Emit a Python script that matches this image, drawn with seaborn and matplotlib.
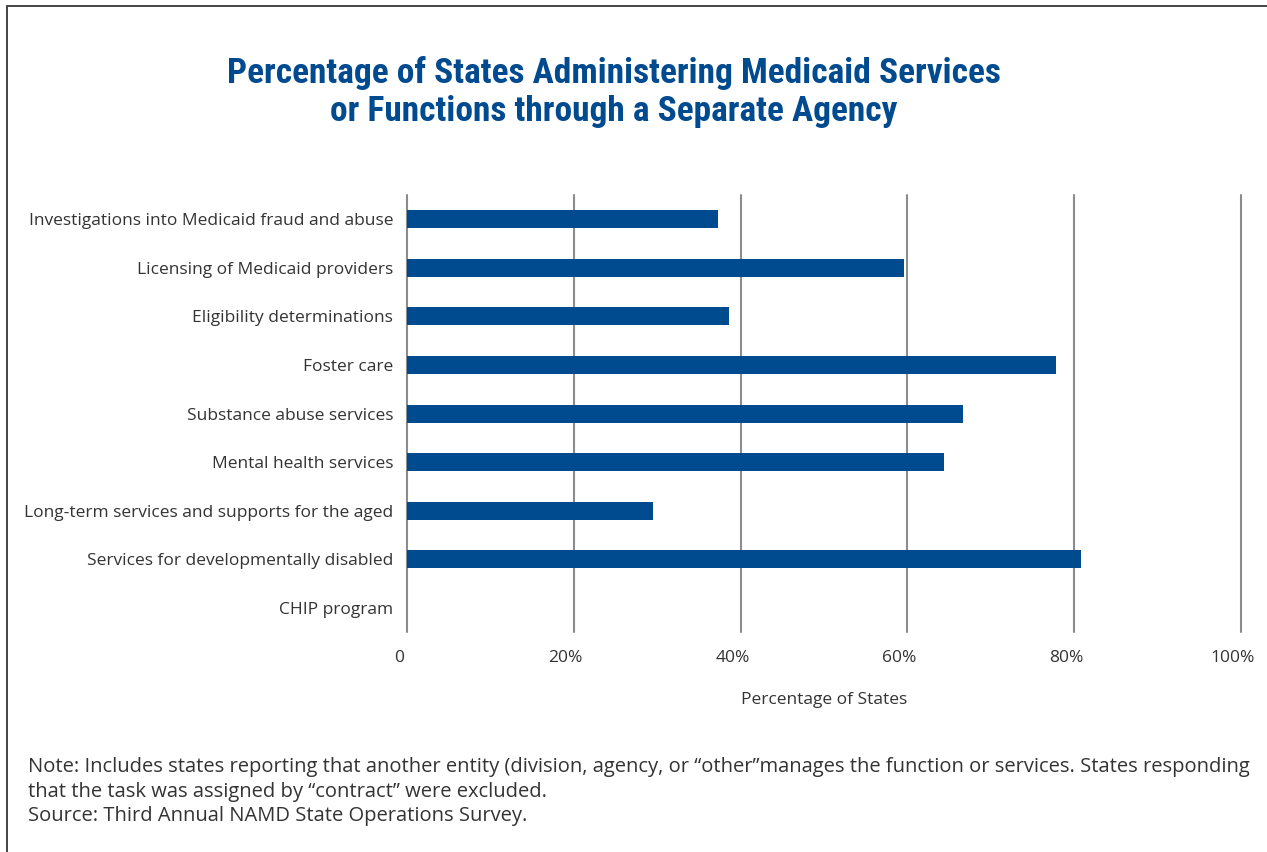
import matplotlib
matplotlib.use("Agg")
import matplotlib.pyplot as plt
import matplotlib.transforms as mtransforms
import seaborn as sns
import pandas as pd
from matplotlib.lines import Line2D

categories = [
    "Investigations into Medicaid fraud and abuse",
    "Licensing of Medicaid providers",
    "Eligibility determinations",
    "Foster care",
    "Substance abuse services",
    "Mental health services",
    "Long-term services and supports for the aged",
    "Services for developmentally disabled",
    "CHIP program",
]
values = [37.3, 59.6, 38.6, 77.8, 66.7, 64.4, 29.5, 80.8, 0.0]
xticks = [0, 20, 40, 60, 80, 100]
xtick_labels = ["0", "20%", "40%", "60%", "80%", "100%"]

title = "Percentage of States Administering Medicaid Services\nor Functions through a Separate Agency"
xlabel = "Percentage of States"
note = ("Note: Includes states reporting that another entity (division, agency, or \u201cother\u201dmanages the function or services. States responding\n"
        "that the task was assigned by \u201ccontract\u201d were excluded.\n"
        "Source: Third Annual NAMD State Operations Survey.")

sns.set_style("white")
plt.rcParams['font.family'] = ['Open Sans', 'Liberation Sans', 'DejaVu Sans']

BLUE = "#004a8f"
TXT = "#333333"
GRID = "#8c8c8c"

df = pd.DataFrame({"category": categories, "value": values})

fig = plt.figure(figsize=(12.67, 8.52), dpi=100)
ax = fig.add_axes([0.3212, 0.2582, 0.9795 - 0.3212, 0.7711 - 0.2582])

sns.barplot(data=df, x="value", y="category", orient="h", color=BLUE,
            width=0.37, saturation=1, linewidth=0, ax=ax, zorder=3)

ax.set_xlim(0, 100)
ax.set_ylim(len(categories) - 0.5, -0.5)
ax.set_xticks(xticks)
ax.set_xticklabels(xtick_labels)
for x in xticks:
    ax.axvline(x, color=GRID, lw=1.5, zorder=1, clip_on=False)
for s in ax.spines.values():
    s.set_visible(False)
ax.tick_params(axis="both", length=0, labelsize=12.5, colors=TXT)
ax.tick_params(axis="y", pad=10)
ax.tick_params(axis="x", pad=13)
shift = mtransforms.ScaledTranslation(-8 / 100, 0, fig.dpi_scale_trans)
for lab in ax.get_xticklabels():
    lab.set_transform(lab.get_transform() + shift)
ax.set_ylabel("")
ax.set_xlabel(xlabel, fontsize=12.5, color=TXT, labelpad=19)

fig.text(0.4842, 0.892, title, ha="center", va="center", fontsize=25.5,
         fontweight="bold", color=BLUE, linespacing=1.22,
         family=['Roboto Condensed', 'Liberation Sans', 'DejaVu Sans'])

fig.text(28 / 1267, 1 - 757 / 852, note, ha="left", va="top", fontsize=14.5,
         color=TXT, linespacing=1.3)

# frame lines (left and top)
fig.add_artist(Line2D([7 / 1267, 7 / 1267], [0, 1 - 6 / 852], transform=fig.transFigure,
                      color="#444444", lw=1.4))
fig.add_artist(Line2D([7 / 1267, 1], [1 - 6 / 852, 1 - 6 / 852], transform=fig.transFigure,
                      color="#444444", lw=1.4))

fig.savefig("out.png", dpi=100, facecolor="white")
